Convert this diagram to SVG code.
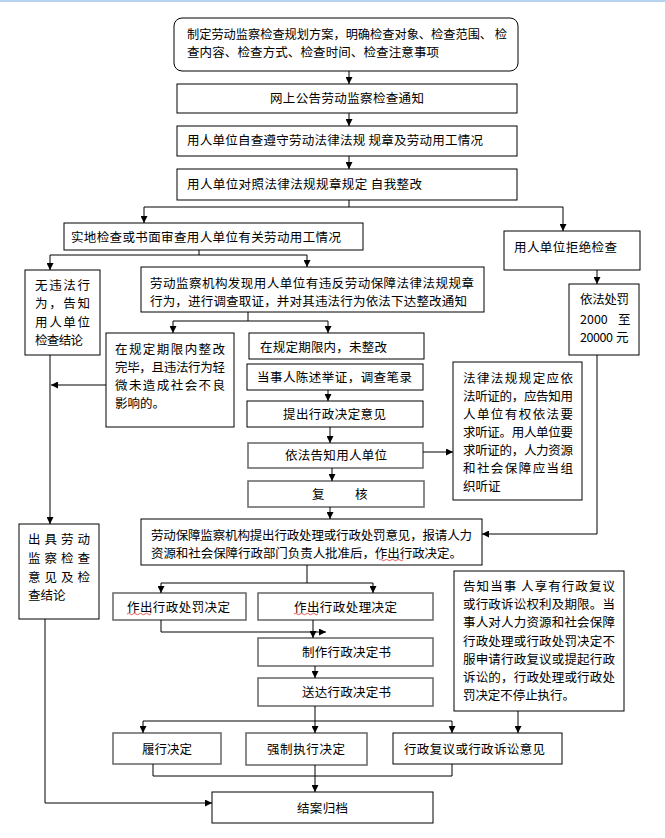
<svg xmlns="http://www.w3.org/2000/svg" width="665" height="838" viewBox="0 0 665 838">
<defs>
<style>
.b{fill:#fff;stroke:#000;stroke-width:1}
.g{fill:#fff;stroke:#6e6e6e;stroke-width:1.6}
text{font-family:"Noto Sans CJK SC","Liberation Sans",sans-serif;font-size:12.5px;fill:#000}
.c{text-anchor:middle}
.w{fill:none;stroke:#e03030;stroke-width:0.8}
#conn path{fill:none;stroke:#000;stroke-width:1}
</style>
<marker id="ah" viewBox="0 0 8 8" refX="8" refY="4" markerWidth="7" markerHeight="7" markerUnits="userSpaceOnUse" orient="auto">
<path d="M0,0 L8,4 L0,8 z" fill="#000"/>
</marker>
</defs>
<rect x="0" y="0" width="665" height="838" fill="#fff"/>
<rect x="0" y="0" width="665" height="2" fill="#b9d3ee"/>

<g id="n1"><rect class="b" x="174" y="18" width="344" height="53" rx="8"/>
<text x="187" y="39" textLength="320" lengthAdjust="spacingAndGlyphs">制定劳动监察检查规划方案，明确检查对象、检查范围、 检</text>
<text x="187" y="57" textLength="252">查内容、检查方式、检查时间、检查注意事项</text></g>

<g id="n2"><rect class="b" x="177" y="84" width="340" height="29"/>
<text x="270" y="102.5" textLength="154">网上公告劳动监察检查通知</text></g>

<g id="n3"><rect class="b" x="177" y="126" width="340" height="30"/>
<text x="187" y="144.5" textLength="296">用人单位自查遵守劳动法律法规 规章及劳动用工情况</text></g>

<g id="n4"><rect class="b" x="177" y="169" width="340" height="31"/>
<text x="187" y="188.5" textLength="235">用人单位对照法律法规规章规定 自我整改</text></g>

<g id="n5"><rect class="b" x="64" y="223" width="299" height="27"/>
<text x="71" y="241.5" textLength="270">实地检查或书面审查用人单位有关劳动用工情况</text></g>

<g id="n6"><rect class="b" x="504" y="231" width="136" height="39"/>
<text x="514" y="251.5" textLength="103">用人单位拒绝检查</text></g>

<g id="n7"><rect class="b" x="141" y="267" width="343" height="45"/>
<text x="150" y="287.5" textLength="324">劳动监察机构发现用人单位有违反劳动保障法律法规规章</text>
<text x="150" y="305.5" textLength="317">行为，进行调查取证，并对其违法行为依法下达整改通知</text></g>

<g id="n8"><rect class="b" x="25" y="270" width="75" height="85"/>
<text x="35" y="289.5" textLength="55">无违法行</text>
<text x="35" y="307.5" textLength="55">为，告知</text>
<text x="35" y="326.5" textLength="55">用人单位</text>
<text x="35" y="344.5" textLength="48">检查结论</text></g>

<g id="n9"><rect class="b" x="106" y="333" width="128" height="94"/>
<text x="115" y="353.5" textLength="110">在规定期限内整改</text>
<text x="115" y="371.5" textLength="110">完毕，且违法行为轻</text>
<text x="115" y="389.5" textLength="110">微未造成社会不良</text>
<text x="115" y="407.5">影响的。</text></g>

<g id="n10"><rect class="b" x="249" y="333" width="175" height="26"/>
<text x="260" y="351.5" textLength="127">在规定期限内，未整改</text></g>

<g id="n11"><rect class="b" x="247" y="364" width="176" height="26"/>
<text x="257" y="381.5" textLength="155">当事人陈述举证，调查笔录</text></g>

<g id="n12"><rect class="b" x="247" y="401" width="176" height="26"/>
<text x="283" y="418.5" textLength="103">提出行政决定意见</text></g>

<g id="n13"><rect class="g" x="248" y="443" width="175" height="25"/>
<text x="285" y="460" textLength="102">依法告知用人单位</text></g>

<g id="n14"><rect class="g" x="248" y="481" width="176" height="26"/>
<text x="312" y="498.5">复</text><text x="355" y="498.5">核</text></g>

<g id="n15"><rect class="b" x="453" y="362" width="129" height="138"/>
<text x="463" y="382.5" textLength="110">法律法规规定应依</text>
<text x="463" y="400.5" textLength="110">法听证的，应告知用</text>
<text x="463" y="418.5" textLength="110">人单位有权依法要</text>
<text x="463" y="436.5" textLength="110">求听证。用人单位要</text>
<text x="463" y="454.5" textLength="110">求听证的，人力资源</text>
<text x="463" y="472.5" textLength="110">和社会保障应当组</text>
<text x="463" y="490.5">织听证</text></g>

<g id="n16"><rect class="b" x="569" y="284" width="70" height="71"/>
<text x="580" y="304" textLength="49">依法处罚</text>
<text x="580" y="323.5">2000</text><text x="618" y="323.5">至</text>
<text x="580" y="342" textLength="33">20000</text><text x="616" y="342">元</text></g>

<g id="n17"><rect class="b" x="141" y="519" width="341" height="46"/>
<text x="151" y="539.5" textLength="321">劳动保障监察机构提出行政处理或行政处罚意见，报请人力</text>
<text x="151" y="557.5" textLength="311">资源和社会保障行政部门负责人批准后，作出行政决定。</text>
<path class="w" d="M379,560 q1.5,-1.5 3,0 t3,0 t3,0 t3,0 t3,0 t3,0 t3,0 t3,0"/></g>

<g id="n18"><rect class="b" x="19" y="524" width="80" height="95"/>
<text x="28" y="543.5" textLength="62">出具劳动</text>
<text x="28" y="562.5" textLength="62">监察检查</text>
<text x="28" y="581.5" textLength="62">意见及检</text>
<text x="28" y="599.5">查结论</text></g>

<g id="n19"><rect class="g" x="113" y="593" width="133" height="27"/>
<text x="127" y="611.5" textLength="103">作出行政处罚决定</text>
<path class="w" d="M127,614 q1.5,-1.5 3,0 t3,0 t3,0 t3,0 t3,0 t3,0 t3,0 t3,0"/></g>

<g id="n20"><rect class="g" x="258" y="593" width="175" height="27"/>
<text x="294" y="611.5" textLength="103">作出行政处理决定</text>
<path class="w" d="M294,614 q1.5,-1.5 3,0 t3,0 t3,0 t3,0 t3,0 t3,0 t3,0 t3,0"/></g>

<g id="n21"><rect class="g" x="258" y="638" width="175" height="28"/>
<text x="302" y="657" textLength="89">制作行政决定书</text></g>

<g id="n22"><rect class="g" x="258" y="678" width="175" height="28"/>
<text x="302" y="697" textLength="89">送达行政决定书</text></g>

<g id="n23"><rect class="b" x="454" y="571" width="170" height="140"/>
<text x="463" y="590.5" textLength="152">告知当事 人享有行政复议</text>
<text x="463" y="608.5" textLength="152">或行政诉讼权利及期限。当</text>
<text x="463" y="627" textLength="152">事人对人力资源和社会保障</text>
<text x="463" y="645.5" textLength="152">行政处理或行政处罚决定不</text>
<text x="463" y="663.5" textLength="152">服申请行政复议或提起行政</text>
<text x="463" y="682" textLength="152">诉讼的，行政处理或行政处</text>
<text x="463" y="700" textLength="112">罚决定不停止执行。</text></g>

<g id="n24"><rect class="g" x="113" y="733" width="108" height="31"/>
<text x="142" y="754" textLength="50">履行决定</text></g>

<g id="n25"><rect class="g" x="246" y="733" width="121" height="32"/>
<text x="267" y="754" textLength="78">强制执行决定</text></g>

<g id="n26"><rect class="b" x="393" y="733" width="169" height="31"/>
<text x="404" y="754" textLength="141">行政复议或行政诉讼意见</text></g>

<g id="n27"><rect class="b" x="212" y="792" width="221" height="31"/>
<text x="297" y="812.5" textLength="51">结案归档</text></g>

<g id="conn">
<path d="M349,71 V84" marker-end="url(#ah)"/>
<path d="M349,113 V126" marker-end="url(#ah)"/>
<path d="M349,156 V169" marker-end="url(#ah)"/>
<path d="M349,200 V207 M144,207 H563"/>
<path d="M144,207 V223" marker-end="url(#ah)"/>
<path d="M563,207 V231" marker-end="url(#ah)"/>
<path d="M199,250 V255 M50,255 H307"/>
<path d="M50,255 V270" marker-end="url(#ah)"/>
<path d="M307,255 V267" marker-end="url(#ah)"/>
<path d="M248,312 V321 M173,321 H328"/>
<path d="M173,321 V333" marker-end="url(#ah)"/>
<path d="M328,321 V333" marker-end="url(#ah)"/>
<path d="M106,385 H51" marker-end="url(#ah)"/>
<path d="M50,355 V524" marker-end="url(#ah)"/>
<path d="M328,390 V401" marker-end="url(#ah)"/>
<path d="M330,427 V443" marker-end="url(#ah)"/>
<path d="M332,468 V481" marker-end="url(#ah)"/>
<path d="M423,452 H453" marker-end="url(#ah)"/>
<path d="M330,507 V519" marker-end="url(#ah)"/>
<path d="M597,270 V284" marker-end="url(#ah)"/>
<path d="M597,355 V534 H482" marker-end="url(#ah)"/>
<path d="M307,565 V583 M161,583 H373"/>
<path d="M161,583 V593" marker-end="url(#ah)"/>
<path d="M373,583 V593" marker-end="url(#ah)"/>
<path d="M161,620 V632 H326" marker-end="url(#ah)"/>
<path d="M313,620 V638" marker-end="url(#ah)"/>
<path d="M315,666 V678" marker-end="url(#ah)"/>
<path d="M315,706 V733" marker-end="url(#ah)"/>
<path d="M143,721 H452"/>
<path d="M143,721 V733" marker-end="url(#ah)"/>
<path d="M452,721 V733" marker-end="url(#ah)"/>
<path d="M518,711 V733" marker-end="url(#ah)"/>
<path d="M153,764 V776 H452 V764"/>
<path d="M315,765 V792" marker-end="url(#ah)"/>
<path d="M45,619 V803 H212" marker-end="url(#ah)"/>
</g>
</svg>
